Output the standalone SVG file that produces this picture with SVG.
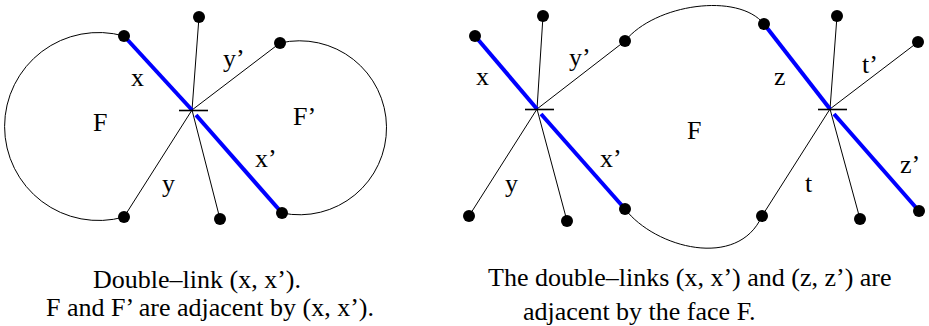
<svg xmlns="http://www.w3.org/2000/svg" width="929" height="326" viewBox="0 0 929 326">
<style>
.thin{stroke:#000;stroke-width:1;fill:none}
.tick{stroke:#000;stroke-width:1.6;fill:none}
.blue{stroke:#0000ff;stroke-width:4;fill:none}
.node{fill:#000}
text{font-family:"Liberation Serif","Times New Roman",serif;font-size:26px;fill:#000}
</style>
<rect width="929" height="326" fill="#fff"/>
<g id="connectors">
  <path class="thin" d="M124,36 A94,94 0 1,0 124,217"/>
  <path class="thin" d="M280,43 A87,87 0 1,1 282,213"/>
  <line class="thin" x1="199" y1="17" x2="192" y2="110"/>
  <line class="thin" x1="280" y1="43" x2="192" y2="110"/>
  <line class="thin" x1="124" y1="217" x2="192" y2="110"/>
  <line class="thin" x1="220" y1="219" x2="192" y2="110"/>
  <line class="blue" x1="124" y1="36" x2="192" y2="110"/>
  <line class="blue" x1="196" y1="115" x2="282" y2="213"/>
  <line class="tick" x1="179" y1="110.5" x2="208" y2="110.5"/>
  <path class="thin" d="M625,41 C655,4 738,-8 764,24"/>
  <path class="thin" d="M625,209 C655,248 738,270 762,216"/>
  <line class="thin" x1="543" y1="16" x2="537" y2="109"/>
  <line class="thin" x1="625" y1="41" x2="537" y2="109"/>
  <line class="thin" x1="469" y1="216" x2="537" y2="109"/>
  <line class="thin" x1="567" y1="221" x2="537" y2="109"/>
  <line class="blue" x1="475" y1="36" x2="537" y2="109"/>
  <line class="blue" x1="541" y1="114" x2="625" y2="209"/>
  <line class="tick" x1="525" y1="109.5" x2="554" y2="109.5"/>
  <line class="thin" x1="837" y1="16" x2="830" y2="109"/>
  <line class="thin" x1="918" y1="42" x2="830" y2="109"/>
  <line class="thin" x1="762" y1="216" x2="830" y2="109"/>
  <line class="thin" x1="860" y1="219" x2="830" y2="109"/>
  <line class="blue" x1="764" y1="24" x2="830" y2="109"/>
  <line class="blue" x1="834" y1="114" x2="919" y2="211"/>
  <line class="tick" x1="818" y1="109.5" x2="847" y2="109.5"/>
</g>
<g id="n1"><circle class="node" cx="124" cy="36" r="6"/></g>
<g id="n2"><circle class="node" cx="199" cy="17" r="6"/></g>
<g id="n3"><circle class="node" cx="280" cy="43" r="6"/></g>
<g id="n4"><circle class="node" cx="124" cy="217" r="6"/></g>
<g id="n5"><circle class="node" cx="220" cy="219" r="6"/></g>
<g id="n6"><circle class="node" cx="282" cy="213" r="6"/></g>
<g id="n7"><circle class="node" cx="475" cy="36" r="6"/></g>
<g id="n8"><circle class="node" cx="543" cy="16" r="6"/></g>
<g id="n9"><circle class="node" cx="625" cy="41" r="6"/></g>
<g id="n10"><circle class="node" cx="469" cy="216" r="6"/></g>
<g id="n11"><circle class="node" cx="567" cy="221" r="6"/></g>
<g id="n12"><circle class="node" cx="625" cy="209" r="6"/></g>
<g id="n13"><circle class="node" cx="764" cy="24" r="6"/></g>
<g id="n14"><circle class="node" cx="837" cy="16" r="6"/></g>
<g id="n15"><circle class="node" cx="918" cy="42" r="6"/></g>
<g id="n16"><circle class="node" cx="762" cy="216" r="6"/></g>
<g id="n17"><circle class="node" cx="860" cy="219" r="6"/></g>
<g id="n18"><circle class="node" cx="919" cy="211" r="6"/></g>
<g id="labels">
  <text x="131" y="86">x</text>
  <text x="223" y="67">y’</text>
  <text x="93" y="131">F</text>
  <text x="293" y="125">F’</text>
  <text x="255" y="167">x’</text>
  <text x="162" y="192">y</text>
  <text x="476" y="85">x</text>
  <text x="569" y="66">y’</text>
  <text x="687" y="139">F</text>
  <text x="600" y="167">x’</text>
  <text x="505" y="192">y</text>
  <text x="774" y="85">z</text>
  <text x="862" y="73">t’</text>
  <text x="805" y="192">t</text>
  <text x="900" y="173">z’</text>
</g>
<g id="captions">
  <text x="93" y="288">Double–link (x, x’).</text>
  <text x="46" y="316">F and F’ are adjacent by (x, x’).</text>
  <text x="488" y="286">The double–links (x, x’) and (z, z’) are</text>
  <text x="523" y="320">adjacent by the face F.</text>
</g>
</svg>
